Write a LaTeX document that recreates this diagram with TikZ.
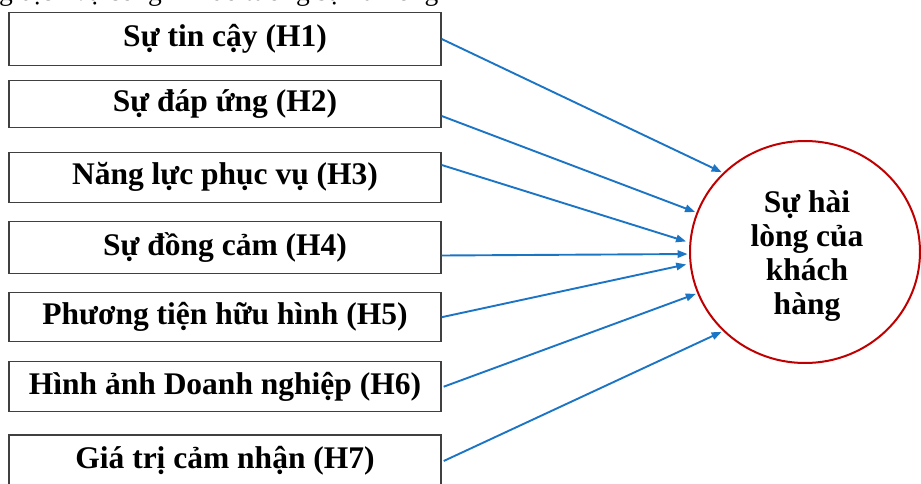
\documentclass[tikz,border=0pt]{standalone}
\usepackage{fontspec}
\setmainfont{Liberation Serif}
\usetikzlibrary{shapes.geometric,arrows.meta}
\definecolor{boxgray}{RGB}{64,64,64}
\definecolor{arrblue}{RGB}{28,117,196}
\definecolor{cred}{RGB}{192,0,0}
\begin{document}
\begin{tikzpicture}[x=1pt,y=-1pt,
  factor/.style={draw=boxgray,line width=1.4pt,minimum width=432pt,inner sep=0pt,
    font=\fontsize{31.5}{36}\selectfont\bfseries},
  link/.style={draw=arrblue,line width=1.9pt,-{Triangle[length=10pt,width=7.5pt]},shorten >=1.5pt},
  outcome/.style={ellipse,draw=cred,line width=2pt,minimum width=230pt,minimum height=222pt,
    inner sep=0pt},
  outtext/.style={inner sep=0pt,align=center,font=\fontsize{31.5}{34}\selectfont\bfseries}]
\useasboundingbox (0,0) rectangle (921,484);
\node[anchor=base west,inner sep=0pt,font=\fontsize{27.5}{30}\selectfont] (top) at (-1,0.5) {g dịch vụ công khi đó tương sự hài lòng};
\node[factor,minimum height=53pt] (b1) at (225,39) {Sự tin cậy (H1)};
\node[factor,minimum height=47pt] (b2) at (225,104.3) {Sự đáp ứng (H2)};
\node[factor,minimum height=50pt] (b3) at (225,177.3) {Năng lực phục vụ (H3)};
\node[factor,minimum height=52pt] (b4) at (225,247.5) {Sự đồng cảm (H4)};
\node[factor,minimum height=49pt] (b5) at (225,317.2) {Phương tiện hữu hình (H5)};
\node[factor,minimum height=50pt] (b6) at (225,386.7) {Hình ảnh Doanh nghiệp (H6)};
\node[factor,minimum height=52pt] (b7) at (225,461) {Giá trị cảm nhận (H7)};
\node[outcome] (c) at (805,252) {};
\node[outtext] (ct) at ([xshift=2pt,yshift=-4pt]c.center) {Sự hài\\lòng của\\khách\\hàng};
\draw[link] (b1.east) -- (c.136);
\draw[link] ([yshift=-11.7pt]b2.east) -- (c.160);
\draw[link] ([yshift=12.3pt]b3.east) -- ([xshift=-2pt]c.175);
\draw[link] ([yshift=-8pt]b4.east) -- (c.181.5);
\draw[link] (b5.east) -- ([xshift=-2pt]c.186.5);
\draw[link] ([xshift=2pt]b6.east) -- (c.201.5);
\draw[link] ([xshift=2pt]b7.east) -- (c.224.5);
\end{tikzpicture}
\end{document}
